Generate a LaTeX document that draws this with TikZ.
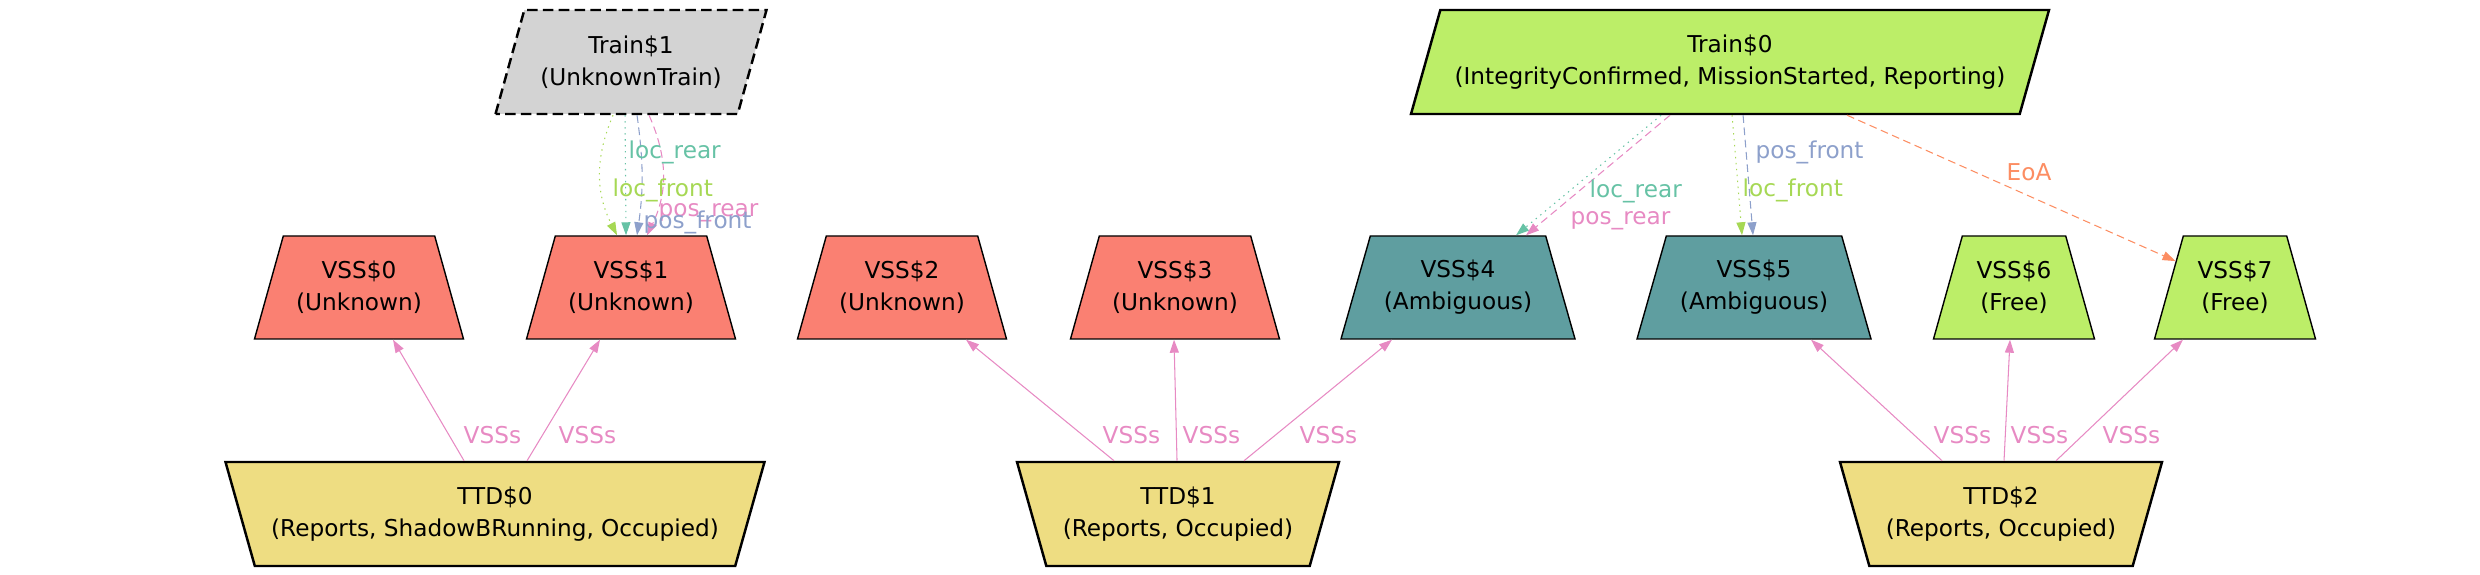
\documentclass[tikz,border=0pt]{standalone}
\usepackage{fontspec}
\setmainfont{DejaVu Sans}
\usetikzlibrary{shapes.geometric, arrows.meta, positioning}

\definecolor{unknownred}{HTML}{FA8072}
\definecolor{ambigblue}{HTML}{5F9EA0}
\definecolor{freegreen}{HTML}{BCEE68}
\definecolor{ttdyellow}{HTML}{EEDD82}
\definecolor{traingrey}{HTML}{D3D3D3}
\definecolor{locrear}{HTML}{66C2A5}
\definecolor{locfront}{HTML}{A6D854}
\definecolor{posfront}{HTML}{8DA0CB}
\definecolor{posrear}{HTML}{E78AC3}
\definecolor{eoacol}{HTML}{FC8D62}

\begin{document}
\begin{tikzpicture}[>={Triangle[length=1.3mm,width=0.9mm]},
  txt/.style={font=\fontsize{6.6}{9.1}\selectfont},
  train/.style={trapezium, trapezium left angle=74, trapezium right angle=106,
    trapezium stretches body, draw, line width=0.7pt, fill=#1,
    minimum height=1.04cm, inner xsep=0pt, inner ysep=6.8pt, align=center, txt},
  vss/.style={trapezium, trapezium left angle=74, trapezium right angle=74,
    trapezium stretches body, draw, line width=0.4pt, fill=#1,
    minimum height=1.03cm, inner xsep=0pt, inner ysep=6.8pt, align=center, txt},
  ttd/.style={trapezium, trapezium left angle=74, trapezium right angle=74,
    shape border rotate=180, trapezium stretches body, draw, line width=0.7pt,
    fill=ttdyellow, minimum height=1.04cm, inner xsep=0pt, inner ysep=6.8pt,
    align=center, txt},
  lbl/.style={txt, inner sep=0pt, anchor=west},
  edge/.style={->, line width=0.3pt},
  dotline/.style={edge, dash pattern=on 0.4pt off 1.3pt},
  dashline/.style={edge, dash pattern=on 2.2pt off 1.3pt}]
  \useasboundingbox (0,0) rectangle (24.8,5.75);
  % trains
  \node[train=traingrey, minimum width=2.71cm, dash pattern=on 3pt off 1.5pt] (t1) at (6.31,5.13) {Train\$1\\(UnknownTrain)};
  \node[train=freegreen, minimum width=6.38cm] (t0) at (17.30,5.13) {Train\$0\\(IntegrityConfirmed, MissionStarted, Reporting)};
  % vss row
  \node[vss=unknownred, minimum width=2.09cm] (v0) at (3.59,2.875) {VSS\$0\\(Unknown)};
  \node[vss=unknownred, minimum width=2.09cm] (v1) at (6.31,2.875) {VSS\$1\\(Unknown)};
  \node[vss=unknownred, minimum width=2.09cm] (v2) at (9.02,2.875) {VSS\$2\\(Unknown)};
  \node[vss=unknownred, minimum width=2.09cm] (v3) at (11.75,2.875) {VSS\$3\\(Unknown)};
  \node[vss=ambigblue, minimum width=2.34cm] (v4) at (14.58,2.875) {VSS\$4\\(Ambiguous)};
  \node[vss=ambigblue, minimum width=2.34cm] (v5) at (17.54,2.875) {VSS\$5\\(Ambiguous)};
  \node[vss=freegreen, minimum width=1.61cm] (v6) at (20.14,2.875) {VSS\$6\\(Free)};
  \node[vss=freegreen, minimum width=1.61cm] (v7) at (22.35,2.875) {VSS\$7\\(Free)};
  % ttd row
  \node[ttd, minimum width=5.39cm] (d0) at (4.95,0.61) {TTD\$0\\(Reports, ShadowBRunning, Occupied)};
  \node[ttd, minimum width=3.22cm] (d1) at (11.78,0.61) {TTD\$1\\(Reports, Occupied)};
  \node[ttd, minimum width=3.22cm] (d2) at (20.01,0.61) {TTD\$2\\(Reports, Occupied)};
  % Train$1 -> VSS$1
  \draw[dotline, locfront] ([xshift=-1.8mm]t1.south) to[bend right=25] ([xshift=-1.4mm]v1.north);
  \draw[dotline, locrear] ([xshift=-0.6mm]t1.south) -- ([xshift=-0.5mm]v1.north);
  \draw[dashline, posfront] ([xshift=0.6mm]t1.south) to[bend left=8] ([xshift=0.6mm]v1.north);
  \draw[dashline, posrear] ([xshift=1.8mm]t1.south) to[bend left=25] ([xshift=1.6mm]v1.north);
  \node[lbl, text=locrear] (l1) at (6.28,4.23) {loc\_rear};
  \node[lbl, text=locfront] (l2) at (6.12,3.85) {loc\_front};
  \node[lbl, text=posrear] (l3) at (6.58,3.62) {pos\_rear};
  \node[lbl, text=posfront] (l4) at (6.43,3.53) {pos\_front};
  % Train$0 -> VSS$4, VSS$5, VSS$7
  \draw[dotline, locrear] ([xshift=-6.9mm]t0.south) -- ([xshift=5.8mm]v4.north);
  \draw[dashline, posrear] ([xshift=-6.0mm]t0.south) -- ([xshift=6.8mm]v4.north);
  \draw[dotline, locfront] ([xshift=0.2mm]t0.south) -- ([xshift=-1.2mm]v5.north);
  \draw[dashline, posfront] ([xshift=1.3mm]t0.south) -- ([xshift=-0.1mm]v5.north);
  \draw[dashline, eoacol] ([xshift=11.7mm]t0.south) -- (v7);
  \node[lbl, text=locrear] (l5) at (15.89,3.84) {loc\_rear};
  \node[lbl, text=posrear] (l6) at (15.70,3.54) {pos\_rear};
  \node[lbl, text=posfront] (l7) at (17.55,4.23) {pos\_front};
  \node[lbl, text=locfront] (l8) at (17.42,3.85) {loc\_front};
  \node[lbl, text=eoacol] (l9) at (20.06,4.03) {EoA};
  % TTDs -> VSSs
  \draw[edge, posrear] ([xshift=-3.1mm]d0.north) -- ([xshift=3.4mm]v0.south);
  \draw[edge, posrear] ([xshift=3.2mm]d0.north) -- ([xshift=-3.1mm]v1.south);
  \draw[edge, posrear] ([xshift=-6.4mm]d1.north) -- ([xshift=6.4mm]v2.south);
  \draw[edge, posrear] ([xshift=-0.1mm]d1.north) -- ([xshift=-0.1mm]v3.south);
  \draw[edge, posrear] ([xshift=6.6mm]d1.north) -- ([xshift=-6.6mm]v4.south);
  \draw[edge, posrear] ([xshift=-5.9mm]d2.north) -- ([xshift=5.7mm]v5.south);
  \draw[edge, posrear] ([xshift=0.3mm]d2.north) -- ([xshift=-0.4mm]v6.south);
  \draw[edge, posrear] ([xshift=5.5mm]d2.north) -- ([xshift=-5.2mm]v7.south);
  \foreach \x [count=\i] in {4.63,5.58,11.02,11.82,12.99,19.33,20.10,21.02}
    \node[lbl, text=posrear] (s\i) at (\x,1.40) {VSSs};
\end{tikzpicture}
\end{document}
